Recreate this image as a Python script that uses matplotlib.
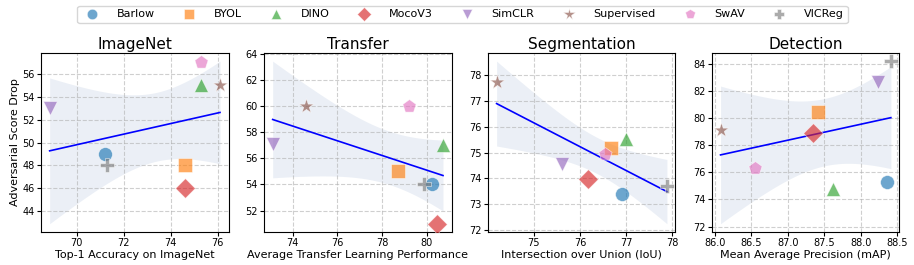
import numpy as np
import matplotlib
matplotlib.use("Agg")
import matplotlib.pyplot as plt
from matplotlib.lines import Line2D
from matplotlib.ticker import MultipleLocator

methods = ["Barlow", "BYOL", "DINO", "MocoV3", "SimCLR", "Supervised", "SwAV", "VICReg"]
markers = ["o", "s", "^", "D", "v", "*", "p", "P"]
colors = ["#1f77b4", "#ff7f0e", "#2ca02c", "#d62728", "#9467bd", "#8c564b", "#e377c2", "#7f7f7f"]

# adversarial score drop (y) vs task performance (x)
imagenet_x = [71.2, 74.6, 75.3, 74.6, 68.85, 76.1, 75.3, 71.27]
imagenet_y = [49.0, 48.0, 55.0, 46.0, 53.0, 55.0, 57.0, 48.0]

transfer_x = [80.24, 78.7, 80.72, 80.46, 73.1, 74.6, 79.18, 79.85]
transfer_y = [54.0, 55.0, 57.0, 51.0, 57.1, 60.0, 60.0, 54.0]

seg_x = [76.9, 76.68, 77.0, 76.18, 75.62, 74.2, 76.54, 77.88]
seg_y = [73.4, 75.19, 75.53, 73.98, 74.54, 77.74, 74.96, 73.72]

det_x = [88.36, 87.42, 87.62, 87.34, 88.24, 86.08, 86.55, 88.41]
det_y = [75.28, 80.43, 74.8, 78.89, 82.63, 79.11, 76.34, 84.19]

panels = [
    ("ImageNet", "Top-1 Accuracy on ImageNet", imagenet_x, imagenet_y),
    ("Transfer", "Average Transfer Learning Performance", transfer_x, transfer_y),
    ("Segmentation", "Intersection over Union (IoU)", seg_x, seg_y),
    ("Detection", "Mean Average Precision (mAP)", det_x, det_y),
]

band_k = 2.0  # width of band, roughly like the bootstrap one


def reg_band(x, y):
    x = np.asarray(x)
    y = np.asarray(y)
    n = len(x)
    b, a = np.polyfit(x, y, 1)
    xs = np.linspace(x.min(), x.max(), 100)
    ys = a + b * xs
    resid = y - (a + b * x)
    s = np.sqrt(np.sum(resid ** 2) / (n - 2))
    sxx = np.sum((x - x.mean()) ** 2)
    se = s * np.sqrt(1 / n + (xs - x.mean()) ** 2 / sxx)
    return xs, ys, ys - band_k * se, ys + band_k * se


fig = plt.figure(figsize=(9.14, 2.65), dpi=100)
lefts = [0.045, 0.289, 0.534, 0.779]
ysteps = [2, 2, 1, 2]

for i, (title, xlabel, xv, yv) in enumerate(panels):
    ax = fig.add_axes([lefts[i], 0.125, 0.205, 0.675])
    xs, ys, lo, hi = reg_band(xv, yv)
    ax.fill_between(xs, lo, hi, color="#4c72b0", alpha=0.11, linewidth=0, zorder=1)
    ax.plot(xs, ys, color="blue", linewidth=1.2, zorder=2)
    for j in range(len(methods)):
        ms = 120 if markers[j] == "*" else 100
        ax.scatter(xv[j], yv[j], marker=markers[j], s=ms, color=colors[j],
                   alpha=0.65, edgecolors="white", linewidths=0.5, zorder=3)
    ax.yaxis.set_major_locator(MultipleLocator(ysteps[i]))
    ax.grid(True, linestyle="--", color="#b0b0b0", alpha=0.6, linewidth=0.8)
    ax.set_title(title, fontsize=11, pad=3)
    ax.set_xlabel(xlabel, fontsize=8, labelpad=1)
    ax.tick_params(labelsize=7, length=3, pad=1.5)
    if i == 0:
        ax.set_ylabel("Adversarial Score Drop", fontsize=8, labelpad=2)

handles = [Line2D([], [], linestyle="none", marker=markers[j], color=colors[j],
                  alpha=0.65, markersize=7.5 if markers[j] != "*" else 8.5,
                  markeredgecolor="white", markeredgewidth=0.5)
           for j in range(len(methods))]
fig.legend(handles, methods, loc="upper center", bbox_to_anchor=(0.506, 1.0),
           ncol=8, fontsize=8, frameon=True, columnspacing=2.1, handletextpad=1.2,
           borderpad=0.35)

fig.savefig("out.png", dpi=100)
